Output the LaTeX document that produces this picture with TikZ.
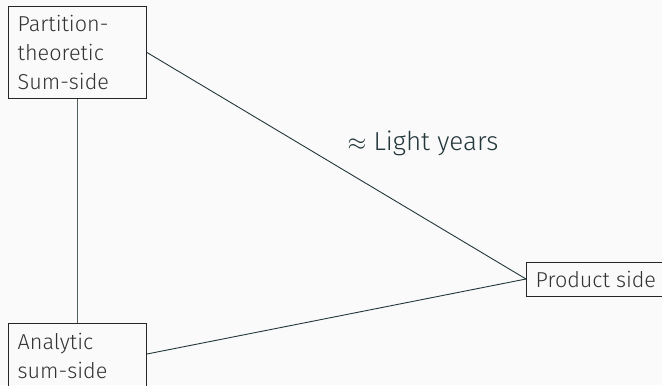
\documentclass[tikz,border=0pt]{standalone}
\usepackage{fontspec}
\setmainfont{Fira Sans Light}
\usetikzlibrary{positioning}
\definecolor{bgpaper}{HTML}{FAFAFA}
\definecolor{slate}{HTML}{23373B}
\tikzset{
  px/.style={x=0.5pt,y=-0.5pt},
  boxnode/.style={draw=black!85,line width=0.5pt,align=left,text=black!80,
    inner xsep=4.6pt,inner ysep=3pt,
    font=\fontsize{10.8pt}{14.5pt}\selectfont},
  link/.style={draw=slate,line width=0.45pt},
}
\begin{document}
\begin{tikzpicture}[px]
  \fill[bgpaper] (0,0) rectangle (662,385);
  \useasboundingbox (0,0) rectangle (662,385);
  \node[boxnode,text width=59.8pt,minimum height=46pt,anchor=north west] (part) at (8,6)
    {Partition-\\theoretic\\Sum-side};
  \node[boxnode,text width=59.8pt,minimum height=32pt,anchor=north west] (anal) at (8,323)
    {Analytic\\sum-side};
  \node[boxnode,minimum width=67pt,minimum height=17pt,anchor=west] (prod) at (526,279)
    {Product side};
  \draw[link] (part.east) -- (prod.west);
  \draw[link] (anal.east |- 0,354) coordinate (ae) -- (prod.west);
  \draw[link,draw=slate!80] (part.south) -- (anal.north);
  \node[text=slate,font=\fontsize{13pt}{15pt}\selectfont] (lbl) at (423,143) {$\approx$ Light years};
\end{tikzpicture}
\end{document}
